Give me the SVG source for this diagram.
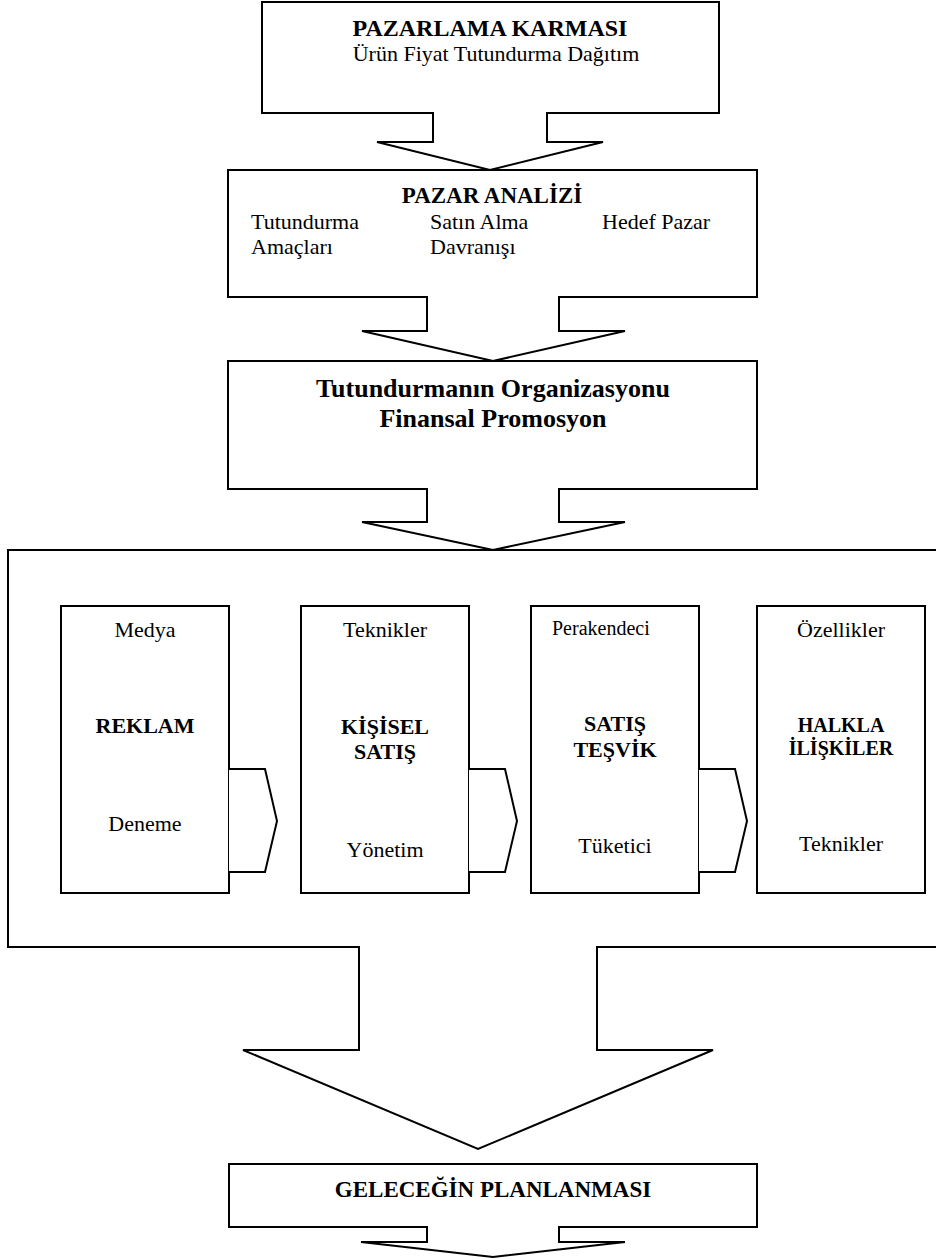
<svg xmlns="http://www.w3.org/2000/svg" width="936" height="1259" viewBox="0 0 936 1259">
<style>
.box{fill:#fff;stroke:#000;stroke-width:2}
.arr{fill:#fff;stroke:#000;stroke-width:2;stroke-linejoin:miter}
text{font-family:"Liberation Serif","Times New Roman",serif;fill:#000}
.r{font-size:22px}
.b{font-weight:bold}
.m{text-anchor:middle}
</style>
<rect x="0" y="0" width="936" height="1259" fill="#fff"/>
<g id="node-pazarlama-karmasi">
<rect class="box" x="262" y="2" width="457" height="111"/>
<text class="b m" x="490" y="36" font-size="24">PAZARLAMA KARMASI</text>
<text class="r m" x="496" y="61">Ürün Fiyat Tutundurma Dağıtım</text>
</g>
<g id="node-pazar-analizi">
<rect class="box" x="228" y="170" width="529" height="127"/>
<text class="b m" x="492" y="203" font-size="23">PAZAR ANALİZİ</text>
<text class="r" x="251" y="229">Tutundurma</text>
<text class="r" x="251" y="254">Amaçları</text>
<text class="r" x="430" y="229">Satın Alma</text>
<text class="r" x="430" y="254">Davranışı</text>
<text class="r" x="602" y="229">Hedef Pazar</text>
</g>
<g id="node-organizasyon">
<rect class="box" x="228" y="361" width="529" height="128"/>
<text class="b m" x="493" y="397" font-size="26">Tutundurmanın Organizasyonu</text>
<text class="b m" x="493" y="427" font-size="26">Finansal Promosyon</text>
</g>
<g id="node-karma-cercevesi">
<rect class="box" x="8" y="550" width="940" height="397"/>
</g>
<g id="node-reklam">
<rect class="box" x="61" y="606" width="168" height="287"/>
<text class="r m" x="145" y="637">Medya</text>
<text class="b m" x="145" y="733" font-size="22">REKLAM</text>
<text class="r m" x="145" y="831">Deneme</text>
</g>
<g id="node-kisisel-satis">
<rect class="box" x="301" y="606" width="168" height="287"/>
<text class="r m" x="385" y="637">Teknikler</text>
<text class="b m" x="385" y="734" font-size="22">KİŞİSEL</text>
<text class="b m" x="385" y="759" font-size="22">SATIŞ</text>
<text class="r m" x="385" y="857">Yönetim</text>
</g>
<g id="node-satis-tesvik">
<rect class="box" x="531" y="606" width="168" height="287"/>
<text x="552" y="635" font-size="20">Perakendeci</text>
<text class="b m" x="615" y="731" font-size="22">SATIŞ</text>
<text class="b m" x="615" y="757" font-size="22">TEŞVİK</text>
<text class="r m" x="615" y="853">Tüketici</text>
</g>
<g id="node-halkla-iliskiler">
<rect class="box" x="757" y="606" width="168" height="287"/>
<text class="r m" x="841" y="637">Özellikler</text>
<text class="b m" x="841" y="732" font-size="20">HALKLA</text>
<text class="b m" x="841" y="755" font-size="20">İLİŞKİLER</text>
<text class="r m" x="841" y="851">Teknikler</text>
</g>
<g id="node-gelecegin-planlanmasi">
<rect class="box" x="229" y="1164" width="528" height="63"/>
<text class="b m" x="493" y="1197" font-size="23">GELECEĞİN PLANLANMASI</text>
</g>
<g id="connectors">
<path class="arr" d="M433,112 V142 H377 L490,170 L603,142 H547 V112"/>
<path class="arr" d="M427,296 V331 H362 L493,361 L625,331 H559 V296"/>
<path class="arr" d="M427,488 V522 H362 L493,550 L625,522 H559 V488"/>
<path class="arr" d="M229,769 H265 L277,821 L265,872 H229"/>
<path class="arr" d="M469,769 H505 L517,821 L505,872 H469"/>
<path class="arr" d="M699,769 H735 L747,821 L735,872 H699"/>
<path class="arr" d="M359,946 V1050 H243 L478,1149 L713,1050 H597 V946"/>
<path class="arr" d="M427,1226 V1242 H361 L493,1257 L625,1242 H559 V1226"/>
</g>
</svg>
